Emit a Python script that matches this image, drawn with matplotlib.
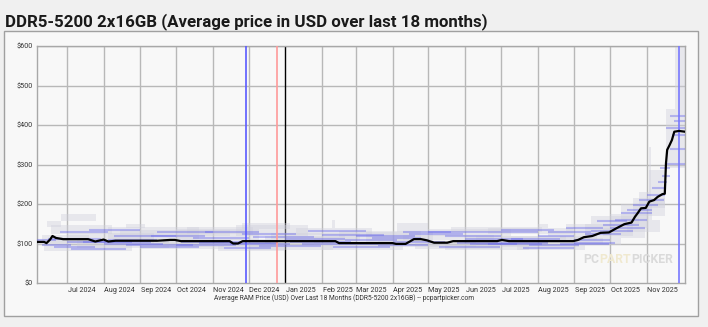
import matplotlib
matplotlib.use("Agg")
import matplotlib.pyplot as plt
from matplotlib import font_manager
from matplotlib.patches import Rectangle
from matplotlib.transforms import offset_copy
import pandas as pd

# ---------------- data ----------------
line_dates = ["2024-06-06", "2024-06-12", "2024-06-14", "2024-06-17", "2024-06-19", "2024-06-22",
              "2024-06-28", "2024-07-19", "2024-07-25", "2024-08-01", "2024-08-05", "2024-08-11",
              "2024-09-15", "2024-09-26", "2024-09-30", "2024-10-05", "2024-11-15", "2024-11-18",
              "2024-11-22", "2024-11-26", "2025-02-12", "2025-02-15", "2025-04-01", "2025-04-04",
              "2025-04-12", "2025-04-19", "2025-04-25", "2025-04-30", "2025-05-06", "2025-05-17",
              "2025-05-22", "2025-06-28", "2025-07-02", "2025-07-08", "2025-08-31", "2025-09-04",
              "2025-09-09", "2025-09-16", "2025-09-23", "2025-09-30", "2025-10-06", "2025-10-13",
              "2025-10-19", "2025-10-22", "2025-10-24", "2025-10-27", "2025-10-31", "2025-11-03",
              "2025-11-07", "2025-11-10", "2025-11-14", "2025-11-16", "2025-11-17", "2025-11-18",
              "2025-11-20", "2025-11-22", "2025-11-24", "2025-11-28", "2025-12-03"]
line_prices = [104, 104, 101, 110, 119, 114,
               111, 111, 105, 110, 105, 107,
               107, 109, 109, 106, 106, 100,
               100, 106, 106, 101, 101, 99,
               99, 111, 111, 108, 102, 102,
               106, 106, 109, 106, 106, 109,
               116, 119, 127, 128, 138, 149,
               153, 168, 176, 189, 190, 206,
               210, 218, 225, 226, 303, 337,
               349, 362, 383, 385, 383]

gray_start = ["2024-06-06", "2024-06-14", "2024-06-26", "2024-06-18", "2024-06-12", "2024-07-01",
              "2024-08-05", "2024-08-20", "2024-09-01", "2024-10-01", "2024-11-05", "2024-11-20",
              "2024-12-15", "2025-01-10", "2025-02-01", "2025-02-09", "2025-03-10", "2025-04-05",
              "2025-04-20", "2025-05-01", "2025-06-01", "2025-06-20", "2025-07-15", "2025-08-01",
              "2025-08-10", "2025-08-25", "2025-09-05", "2025-09-15", "2025-09-25", "2025-10-10",
              "2025-10-15", "2025-10-25", "2025-11-03", "2025-11-17", "2025-11-25", "2025-11-03",
              "2024-06-10", "2024-07-10", "2024-08-15", "2024-09-20", "2024-10-10", "2024-12-01",
              "2024-12-20", "2025-01-25", "2025-02-15", "2025-03-20", "2025-04-10", "2025-05-15",
              "2025-05-20", "2025-06-10", "2025-07-01", "2025-08-20", "2025-09-10", "2025-10-01",
              "2025-10-20", "2024-11-25"]
gray_end = ["2024-07-02", "2024-06-26", "2024-07-26", "2024-08-08", "2024-08-25", "2024-09-12",
            "2024-10-20", "2024-09-05", "2024-11-10", "2024-12-10", "2024-12-31", "2025-01-20",
            "2025-02-20", "2025-03-15", "2025-04-10", "2025-02-12", "2025-05-05", "2025-05-01",
            "2025-06-30", "2025-07-10", "2025-08-10", "2025-08-31", "2025-09-10", "2025-08-10",
            "2025-09-20", "2025-10-05", "2025-10-10", "2025-10-25", "2025-10-30", "2025-11-05",
            "2025-11-12", "2025-11-16", "2025-11-16", "2025-12-03", "2025-12-03", "2025-11-04",
            "2024-07-20", "2024-09-25", "2024-11-15", "2024-12-20", "2024-12-05", "2025-02-10",
            "2025-03-05", "2025-04-15", "2025-04-25", "2025-06-10", "2025-06-25", "2025-07-25",
            "2025-08-05", "2025-08-25", "2025-09-05", "2025-09-25", "2025-10-20", "2025-11-02",
            "2025-11-16", "2025-01-05"]
gray_low = [96, 142, 158, 124, 80, 98,
            112, 140, 86, 108, 80, 118,
            96, 122, 84, 140, 104, 128,
            86, 120, 98, 124, 84, 140,
            110, 132, 95, 150, 115, 160,
            130, 190, 230, 290, 440, 200,
            100, 88, 118, 92, 124, 84,
            106, 96, 116, 90, 108, 84,
            128, 104, 90, 100, 120, 140,
            170, 136]
gray_high = [112, 158, 174, 146, 98, 126,
             142, 150, 104, 136, 100, 148,
             118, 140, 100, 160, 128, 152,
             100, 136, 118, 140, 98, 150,
             132, 150, 115, 170, 140, 200,
             160, 230, 285, 440, 600, 345,
             122, 110, 134, 112, 142, 102,
             126, 116, 132, 106, 122, 96,
             142, 120, 106, 120, 150, 175,
             215, 152]

blue_start = ["2024-06-06", "2024-06-10", "2024-06-20", "2024-06-25", "2024-07-05", "2024-07-20",
              "2024-08-01", "2024-08-10", "2024-09-01", "2024-09-15", "2024-10-01", "2024-10-15",
              "2024-11-10", "2024-11-25", "2024-12-10", "2025-01-01", "2025-01-20", "2025-02-10",
              "2025-03-01", "2025-03-20", "2025-04-10", "2025-05-01", "2025-05-10", "2025-06-01",
              "2025-06-20", "2025-07-01", "2025-07-20", "2025-08-01", "2025-08-20", "2025-08-25",
              "2025-09-10", "2025-09-20", "2025-09-01", "2025-10-01", "2025-10-10", "2025-10-20",
              "2025-10-25", "2025-11-01", "2025-11-05", "2025-11-10", "2025-11-14", "2025-11-18",
              "2025-11-20", "2025-11-17", "2025-11-20", "2025-11-22", "2024-07-15", "2024-10-20",
              "2025-01-15", "2025-05-25",
              "2024-06-15", "2024-07-01", "2024-08-05", "2024-08-20", "2024-09-10", "2024-10-05",
              "2024-10-25", "2024-11-15", "2024-12-05", "2025-01-05", "2025-02-01", "2025-02-20",
              "2025-03-15", "2025-04-01", "2025-04-15", "2025-05-15", "2025-06-05", "2025-06-15",
              "2025-07-10", "2025-07-25", "2025-08-10", "2025-09-01", "2025-09-15", "2025-09-25",
              "2025-10-05", "2025-10-15", "2025-11-12", "2025-11-24"]
blue_end = ["2024-06-22", "2024-07-05", "2024-07-25", "2024-08-05", "2024-08-20", "2024-09-01",
            "2024-09-20", "2024-10-01", "2024-10-20", "2024-11-01", "2024-11-20", "2024-12-01",
            "2024-12-20", "2025-01-10", "2025-01-31", "2025-02-20", "2025-03-10", "2025-03-30",
            "2025-04-20", "2025-05-01", "2025-05-20", "2025-06-15", "2025-06-30", "2025-07-20",
            "2025-08-05", "2025-08-15", "2025-09-01", "2025-09-01", "2025-09-30", "2025-09-25",
            "2025-10-10", "2025-10-15", "2025-10-01", "2025-10-30", "2025-11-05", "2025-11-10",
            "2025-11-15", "2025-11-16", "2025-11-16", "2025-11-18", "2025-11-20", "2025-12-03",
            "2025-12-03", "2025-12-03", "2025-12-03", "2025-12-03", "2024-09-10", "2024-12-25",
            "2025-03-20", "2025-08-10",
            "2024-07-30", "2024-08-25", "2024-09-15", "2024-10-15", "2024-10-25", "2024-11-25",
            "2024-12-10", "2025-01-05", "2025-01-25", "2025-02-25", "2025-03-25", "2025-04-05",
            "2025-04-25", "2025-05-15", "2025-05-30", "2025-07-01", "2025-07-15", "2025-08-01",
            "2025-08-20", "2025-09-05", "2025-09-15", "2025-10-05", "2025-10-20", "2025-10-25",
            "2025-11-01", "2025-11-05", "2025-11-20", "2025-12-03"]
blue_price = [108, 96, 90, 128, 86, 134,
              100, 120, 92, 128, 96, 114,
              88, 124, 94, 112, 132, 90,
              120, 96, 130, 130, 92, 112,
              98, 134, 88, 120, 100, 138,
              124, 156, 110, 140, 176, 198,
              210, 224, 240, 256, 270, 302,
              424, 392, 340, 375, 103, 102,
              98, 101,
              112, 104, 110, 96, 118, 104,
              128, 98, 116, 104, 122, 108,
              114, 104, 124, 118, 100, 128,
              112, 96, 128, 102, 132, 148,
              160, 186, 290, 410]

event_dates = ["2024-11-29", "2024-12-25", "2025-11-28"]
event_colors = ["#5a5aff", "#ff9a9a", "#7878ff"]

y_ticks = [0, 100, 200, 300, 400, 500, 600]
y_labels = ["$0", "$100", "$200", "$300", "$400", "$500", "$600"]
month_starts = pd.date_range("2024-07-01", "2025-11-01", freq="MS")
month_labels = [d.strftime("%b %Y") for d in month_starts]

title = "DDR5-5200 2x16GB (Average price in USD over last 18 months)"
caption = "Average RAM Price (USD) Over Last 18 Months (DDR5-5200 2x16GB) -- pcpartpicker.com"
watermark_parts = ["PC", "PART", "PICKER"]
watermark_colors = ["#dadada", "#f0e9cf", "#dadada"]
x_start, x_end = "2024-06-06", "2025-12-03"

# ---------------- fonts ----------------
def has_font(name):
    try:
        font_manager.findfont(font_manager.FontProperties(family=name), fallback_to_default=False)
        return True
    except Exception:
        return False

narrow = "Liberation Sans Narrow" if has_font("Liberation Sans Narrow") else "Roboto"

# ---------------- figure ----------------
fig = plt.figure(figsize=(7.08, 3.27), dpi=100, facecolor="#f0f0f0")
box = Rectangle((4 / 708, 1 - 316 / 327), 694 / 708, 285 / 327, transform=fig.transFigure,
                facecolor="#f8f8f8", edgecolor="#a0a0a0", linewidth=1.0, zorder=-5)
fig.add_artist(box)

fig.text(5 / 708, 1 - 26.5 / 327, title, fontsize=12.2, fontweight="bold", family=[narrow, "DejaVu Sans"],
         color="#1a1a1a", va="baseline", ha="left")

ax = fig.add_axes([37 / 708, 1 - 283 / 327, (685 - 37) / 708, (283 - 46) / 327])
ax.set_zorder(1)
ax.set_facecolor("#f8f8f8")

ax.set_xlim(pd.to_datetime(x_start), pd.to_datetime(x_end))
ax.set_ylim(0, 600)

# grid
for y in y_ticks[1:]:
    ax.axhline(y, color="#b8b8b8", lw=1.0, zorder=1)
for d in month_starts:
    c = "#000000" if d.month == 1 else "#b8b8b8"
    ax.axvline(d, color=c, lw=1.0, zorder=1)

# gray ranges
for s, e, lo, hi in zip(gray_start, gray_end, gray_low, gray_high):
    s, e = pd.to_datetime(s), pd.to_datetime(e)
    ax.fill_between([s, e], [lo, lo], [hi, hi], color="#d0d0dc", alpha=0.42, lw=0, zorder=2)

# blue price lines
for s, e, p in zip(blue_start, blue_end, blue_price):
    ax.plot([pd.to_datetime(s), pd.to_datetime(e)], [p, p], color="#6464ec", alpha=0.4, lw=1.5,
            solid_capstyle="butt", zorder=3)

# events
for d, c in zip(event_dates, event_colors):
    ax.axvline(pd.to_datetime(d), color=c, lw=1.2, zorder=4)

# average line
ax.plot(pd.to_datetime(line_dates), line_prices, color="#000000", lw=1.6, zorder=5)

# watermark (pieces placed side by side)
fig.canvas.draw()
renderer = fig.canvas.get_renderer()
x_off = 0.0
for part, col in zip(watermark_parts, watermark_colors):
    t = ax.text(0.843, 0.07, part, transform=offset_copy(ax.transAxes, fig=fig, x=x_off, units="dots"),
                fontsize=8.8, fontweight="bold", family=narrow, color=col,
                ha="left", va="bottom", zorder=1.5)
    bb = t.get_window_extent(renderer=renderer)
    x_off += bb.width

# ticks
ax.set_yticks(y_ticks)
ax.set_yticklabels(y_labels)
label_pos = [d + pd.Timedelta(days=13) for d in month_starts]
ax.set_xticks(label_pos)
ax.set_xticklabels(month_labels)
ax.tick_params(axis="both", length=0, labelsize=5.2, colors="#333333", pad=3)
for lab in ax.get_xticklabels() + ax.get_yticklabels():
    lab.set_family(narrow)

for sp in ax.spines.values():
    sp.set_color("#a8a8a8")
    sp.set_linewidth(1.0)

fig.text(344 / 708, 1 - 298.5 / 327, caption, fontsize=4.8, family=narrow, color="#333333",
         ha="center", va="center")

fig.savefig("out.png", dpi=100, facecolor=fig.get_facecolor())
